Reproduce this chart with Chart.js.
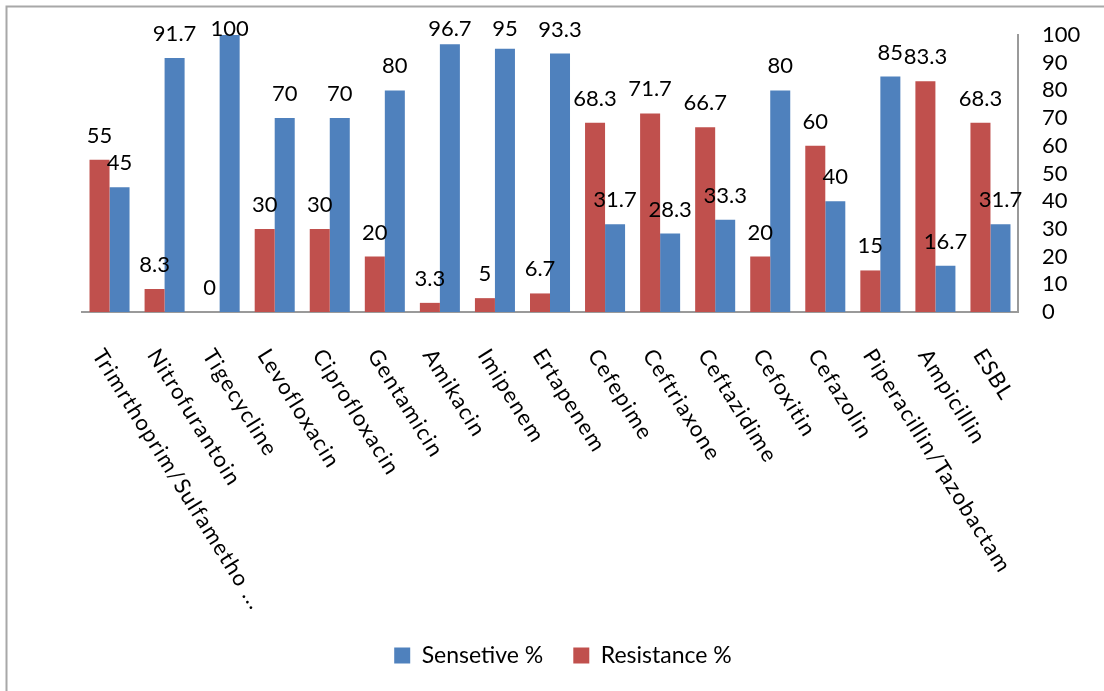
<!DOCTYPE html>
<html>
<head>
<meta charset="utf-8">
<title>Antibiotic susceptibility</title>
<script src="https://cdn.jsdelivr.net/npm/chart.js@4.4.1/dist/chart.umd.min.js"></script>
<style>
  html, body { margin: 0; padding: 0; background: #ffffff; }
  #wrap { width: 1104px; height: 691px; position: relative; }
</style>
</head>
<body>
<div id="wrap"><canvas id="chart"></canvas></div>
<script>
// Antibiotics tested (category axis)
const antibiotics = [
  'Trimrthoprim/Sulfametho ...', 'Nitrofurantoin', 'Tigecycline', 'Levofloxacin',
  'Ciprofloxacin', 'Gentamicin', 'Amikacin', 'Imipenem', 'Ertapenem', 'Cefepime',
  'Ceftriaxone', 'Ceftazidime', 'Cefoxitin', 'Cefazolin', 'Piperacillin/Tazobactam',
  'Ampicillin', 'ESBL'
];

// Percentage of isolates sensitive / resistant to each antibiotic
const sensitivePct  = [45, 91.7, 100, 70, 70, 80, 96.7, 95, 93.3, 31.7, 28.3, 33.3, 80, 40, 85, 16.7, 31.7];
const resistancePct = [55, 8.3, 0, 30, 30, 20, 3.3, 5, 6.7, 68.3, 71.7, 66.7, 20, 60, 15, 83.3, 68.3];

// Value axis range
const axisMin = 0;
const axisMax = 100;
const axisStep = 10;

const BLUE = '#4F81BD';
const RED = '#C0504D';
const AXIS_GREY = '#9a9a9a';
const FONT = 'Lato, "Open Sans", sans-serif';

// White background plus the thin frame along the left and top edges
const framePlugin = {
  id: 'frame',
  beforeDraw(chart) {
    const { ctx, width, height } = chart;
    ctx.save();
    ctx.fillStyle = '#ffffff';
    ctx.fillRect(0, 0, width, height);
    ctx.strokeStyle = '#a8a8a8';
    ctx.lineWidth = 2;
    ctx.beginPath();
    ctx.moveTo(6.5, height);
    ctx.lineTo(6.5, 6.5);
    ctx.lineTo(width, 6.5);
    ctx.stroke();
    ctx.restore();
  }
};

// Value printed above each bar
const valueLabelPlugin = {
  id: 'valueLabels',
  afterDatasetsDraw(chart) {
    const { ctx, chartArea } = chart;
    ctx.save();
    ctx.font = '22px ' + FONT;
    ctx.fillStyle = '#000000';
    ctx.textAlign = 'center';
    ctx.textBaseline = 'alphabetic';
    chart.data.datasets.forEach((ds, di) => {
      const meta = chart.getDatasetMeta(di);
      if (meta.hidden) return;
      meta.data.forEach((bar, i) => {
        const y = Math.max(bar.y - 17, chartArea.top + 1);
        ctx.fillText(String(ds.data[i]), bar.x, y);
      });
    });
    ctx.restore();
  }
};

// Category names written slanting down to the right from under each group
const categoryLabelPlugin = {
  id: 'categoryLabels',
  afterDraw(chart) {
    const { ctx } = chart;
    const xScale = chart.scales.x;
    const angle = 58 * Math.PI / 180;
    ctx.save();
    ctx.font = '22px ' + FONT;
    ctx.fillStyle = '#000000';
    ctx.textAlign = 'left';
    ctx.textBaseline = 'alphabetic';
    if ('letterSpacing' in ctx) ctx.letterSpacing = '1.3px';
    chart.data.labels.forEach((label, i) => {
      const cx = xScale.getPixelForValue(i);
      ctx.save();
      ctx.translate(cx - 18, xScale.top + 43);
      ctx.rotate(angle);
      ctx.fillText(label, 0, 0);
      ctx.restore();
    });
    ctx.restore();
  }
};

const ctx = document.getElementById('chart').getContext('2d');
new Chart(ctx, {
  type: 'bar',
  data: {
    labels: antibiotics,
    datasets: [
      {
        label: 'Resistance %',
        data: resistancePct,
        backgroundColor: RED,
        borderWidth: 0,
        yAxisID: 'y'
      },
      {
        label: 'Sensetive %',
        data: sensitivePct,
        backgroundColor: BLUE,
        borderWidth: 0,
        yAxisID: 'y'
      }
    ]
  },
  options: {
    responsive: true,
    maintainAspectRatio: false,
    devicePixelRatio: 1,
    animation: false,
    events: [],
    layout: { padding: { left: 22, right: 0, top: 35, bottom: 14 } },
    datasets: {
      bar: { categoryPercentage: 0.727, barPercentage: 1.0 }
    },
    scales: {
      x: {
        grid: { display: false },
        border: { display: true, color: AXIS_GREY, width: 2 },
        ticks: { display: false },
        afterFit(scale) { scale.height = 302; }
      },
      y: {
        position: 'right',
        min: axisMin,
        max: axisMax,
        grid: { display: false, drawTicks: false },
        border: { display: true, color: AXIS_GREY, width: 2 },
        ticks: {
          stepSize: axisStep,
          autoSkip: false,
          maxTicksLimit: 11,
          padding: 24,
          color: '#000000',
          font: { family: FONT, size: 22, lineHeight: 1 }
        },
        afterFit(scale) { scale.width = 86; }
      },
      spacer: {
        position: 'left',
        display: true,
        grid: { display: false, drawTicks: false },
        border: { display: false },
        ticks: { display: false },
        afterFit(scale) { scale.width = 60; }
      }
    },
    plugins: {
      legend: {
        position: 'bottom',
        reverse: true,
        labels: {
          boxWidth: 16,
          boxHeight: 16,
          padding: 30,
          color: '#000000',
          font: { family: FONT, size: 23 }
        }
      },
      tooltip: { enabled: false },
      title: { display: false }
    }
  },
  plugins: [framePlugin, valueLabelPlugin, categoryLabelPlugin]
});
</script>
</body>
</html>
